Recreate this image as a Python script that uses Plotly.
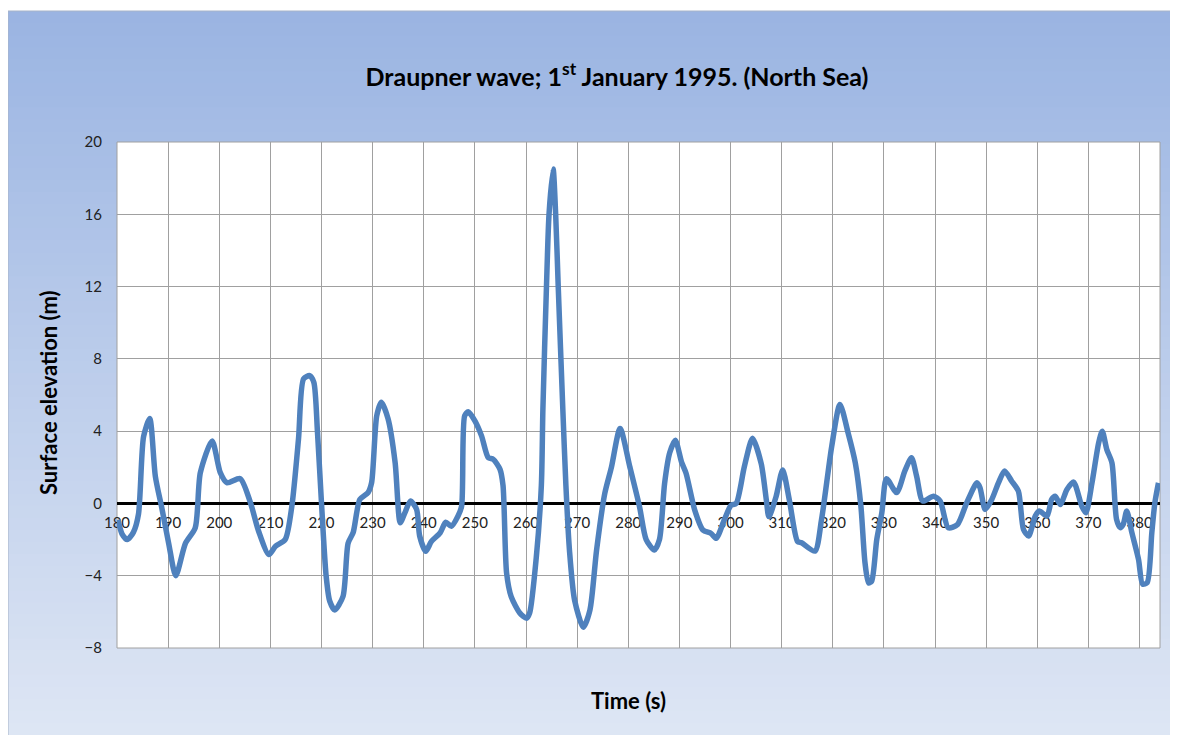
import plotly.graph_objects as go

# ---- data ----
time_s = [180.2, 181.0, 182.0, 183.2, 184.2, 185.2, 186.4, 187.5, 188.8, 190.1,
          191.5, 193.4, 195.3, 196.3, 198.6, 200.2, 201.5, 204.1, 206.1, 207.7,
          209.7, 211.0, 212.9, 214.2, 215.5, 216.5, 217.7, 218.5, 219.2, 220.0,
          220.9, 221.6, 222.6, 224.2, 225.2, 226.2, 227.5, 229.1, 229.8, 230.8,
          231.7, 233.0, 234.4, 235.4, 236.3, 237.4, 238.6, 239.2, 240.4, 241.5,
          243.2, 244.3, 245.4, 246.7, 247.4, 248.0, 248.7, 250.0, 251.3, 252.6,
          253.6, 254.9, 255.5, 256.2, 257.1, 258.8, 260.1, 260.7, 262.0, 263.0,
          263.3, 264.0, 264.5, 265.3, 265.8, 266.3, 267.2, 267.8, 268.5, 269.5,
          271.2, 272.5, 273.8, 275.4, 276.7, 278.4, 280.3, 282.2, 283.5, 285.1,
          286.1, 287.1, 288.1, 289.2, 290.4, 291.3, 293.0, 294.6, 296.2, 297.2,
          298.8, 300.1, 301.1, 302.7, 304.3, 306.0, 307.0, 307.5, 308.9, 310.2,
          311.5, 313.1, 313.9, 316.5, 317.8, 319.8, 321.4, 323.0, 324.4, 325.5,
          326.3, 327.0, 327.6, 328.6, 329.6, 330.5, 332.5, 334.1, 335.4, 336.4,
          337.6, 339.7, 341.0, 342.6, 344.4, 346.2, 348.2, 348.8, 349.8, 351.1,
          352.4, 353.6, 355.0, 356.3, 357.3, 358.3, 359.6, 360.4, 361.9, 362.8,
          363.5, 364.5, 365.8, 367.1, 368.7, 369.5, 370.7, 372.0, 372.7, 373.6,
          374.6, 375.5, 376.2, 376.8, 377.5, 378.5, 379.8, 380.6, 381.5, 382.4,
          383.0, 383.7]
elevation_m = [-0.9, -1.7, -2.0, -1.6, -0.6, 3.7, 4.7, 1.5, -0.3, -2.2,
               -4.0, -2.2, -1.35, 1.7, 3.46, 1.7, 1.15, 1.37, 0.04, -1.54,
               -2.83, -2.37, -2.0, -0.15, 3.56, 6.9, 7.07, 6.7, 4.0, 0.0,
               -4.0, -5.4, -5.9, -5.15, -2.2, -1.6, 0.22, 0.6, 1.15, 4.85,
               5.6, 4.7, 2.26, -1.07, -0.52, 0.13, -0.33, -1.8, -2.65, -2.1,
               -1.63, -1.04, -1.26, -0.7, -0.15, 4.85, 5.07, 4.57, 3.74, 2.54,
               2.44, 1.9, 1.0, -3.85, -5.16, -6.07, -6.35, -6.07, -3.0, 1.0,
               5.2, 12.0, 16.0, 18.5, 16.0, 12.0, 5.2, 1.0, -2.6, -5.35,
               -6.85, -5.9, -2.58, 0.55, 2.0, 4.15, 2.03, -0.18, -2.0, -2.58,
               -2.0, 1.1, 2.8, 3.5, 2.3, 1.67, -0.37, -1.47, -1.66, -1.93,
               -0.9, -0.1, 0.0, 2.03, 3.6, 2.2, 0.2, -0.73, 0.37, 1.85,
               0.19, -2.1, -2.18, -2.64, -0.89, 3.17, 5.48, 3.9, 2.25, -0.15,
               -3.28, -4.4, -4.3, -2.0, -0.5, 1.37, 0.6, 1.8, 2.53, 1.5,
               0.13, 0.4, 0.13, -1.35, -1.16, 0.04, 1.14, 0.87, -0.33, 0.22,
               1.14, 1.79, 1.23, 0.68, -1.44, -1.8, -0.7, -0.42, -0.7, 0.22,
               0.4, -0.06, 0.77, 1.18, -0.15, -0.52, 1.14, 3.35, 4.0, 2.98,
               2.25, -0.88, -1.34, -1.16, -0.42, -1.62, -3.1, -4.47, -4.38, -1.62,
               0.04, 1.14]

x_ticks = list(range(180, 390, 10))
y_ticks = list(range(-8, 24, 4))

title_text = "Draupner wave; 1<sup>st</sup> January 1995. (North Sea)"
x_title = "Time (s)"
y_title = "Surface elevation (m)"

# ---- geometry (screen pixels of the reference; page body adds an 8px offset) ----
OFF = 8
SW, SH = 1178, 735
W, H = SW - OFF, SH - OFF
PL, PR, PT, PB = 117, 1160, 142, 648   # plot area on screen
L, T = PL - OFF, PT - OFF
R, B = W - (PR - OFF), H - (PB - OFF)
pw, ph = W - L - R, H - T - B


def sx(px):
    """screen x pixel -> paper x"""
    return (px - OFF - L) / pw


def sy(py):
    """screen y pixel -> paper y"""
    return (H - B - (py - OFF)) / ph


FONT = "Lato, 'Open Sans', sans-serif"

fig = go.Figure()
fig.add_trace(go.Scatter(
    x=time_s, y=elevation_m, mode="lines",
    line=dict(color="#4F81BD", width=5.5, shape="spline", smoothing=0.7),
    hoverinfo="x+y", showlegend=False,
))

# gradient background of the chart area
shapes = []
top_c = (154, 180, 226)
bot_c = (222, 230, 244)
box_top, box_bot, box_left, box_right = 11, SH, 8, SW
n = 60
for i in range(n):
    y0p = box_top + (box_bot - box_top) * i / n
    y1p = box_top + (box_bot - box_top) * (i + 1) / n + 1
    f = (i + 0.5) / n
    c = tuple(int(round(top_c[k] + (bot_c[k] - top_c[k]) * f)) for k in range(3))
    shapes.append(dict(type="rect", xref="paper", yref="paper", layer="below",
                       x0=sx(box_left), x1=sx(box_right + 2),
                       y0=sy(y1p), y1=sy(y0p),
                       fillcolor="rgb(%d,%d,%d)" % c, line=dict(width=0)))
# outer chart border
shapes.append(dict(type="rect", xref="paper", yref="paper", layer="below",
                   x0=sx(box_left), x1=sx(box_right + 2),
                   y0=sy(box_bot + 2), y1=sy(box_top),
                   fillcolor="rgba(0,0,0,0)", line=dict(color="#A8B4C8", width=1)))
# white plot area with grey border
shapes.append(dict(type="rect", xref="paper", yref="paper", layer="below",
                   x0=0, x1=1, y0=0, y1=1, fillcolor="white",
                   line=dict(color="#A0A0A0", width=1)))

zero_pos = (0 - y_ticks[0]) / (y_ticks[-1] - y_ticks[0])

fig.update_layout(
    width=W, height=H,
    margin=dict(l=L, r=R, t=T, b=B, pad=0),
    paper_bgcolor="white",
    plot_bgcolor="white",
    shapes=shapes,
    title=dict(text=title_text, x=sx(617), xref="paper", xanchor="center",
               y=1 - (77 - OFF) / H, yref="container", yanchor="middle",
               font=dict(family=FONT, size=25, color="#000000", weight="bold")),
    xaxis=dict(range=[180, 384], tickvals=x_ticks, ticktext=[str(v) for v in x_ticks],
               anchor="free", position=zero_pos,
               showgrid=True, gridcolor="#A0A0A0", gridwidth=1,
               zeroline=False, showline=False, ticks="",
               ticklabelstandoff=9, layer="below traces",
               tickfont=dict(family=FONT, size=15, color="#222222")),
    yaxis=dict(range=[y_ticks[0], y_ticks[-1]], tickvals=y_ticks,
               showgrid=True, gridcolor="#A0A0A0", gridwidth=1,
               zeroline=True, zerolinecolor="#000000", zerolinewidth=3,
               showline=False, ticks="", ticklabelstandoff=14, layer="below traces",
               tickfont=dict(family=FONT, size=15, color="#222222")),
    annotations=[
        dict(text="<b>%s</b>" % x_title, xref="paper", yref="paper",
             x=sx(628), y=sy(700), xanchor="center", yanchor="middle",
             showarrow=False, font=dict(family=FONT, size=22, color="#000000")),
        dict(text="<b>%s</b>" % y_title, xref="paper", yref="paper",
             x=sx(48), y=sy(393), xanchor="center", yanchor="middle",
             textangle=-90, showarrow=False,
             font=dict(family=FONT, size=22, color="#000000")),
    ],
)

fig.write_html("out.html")
